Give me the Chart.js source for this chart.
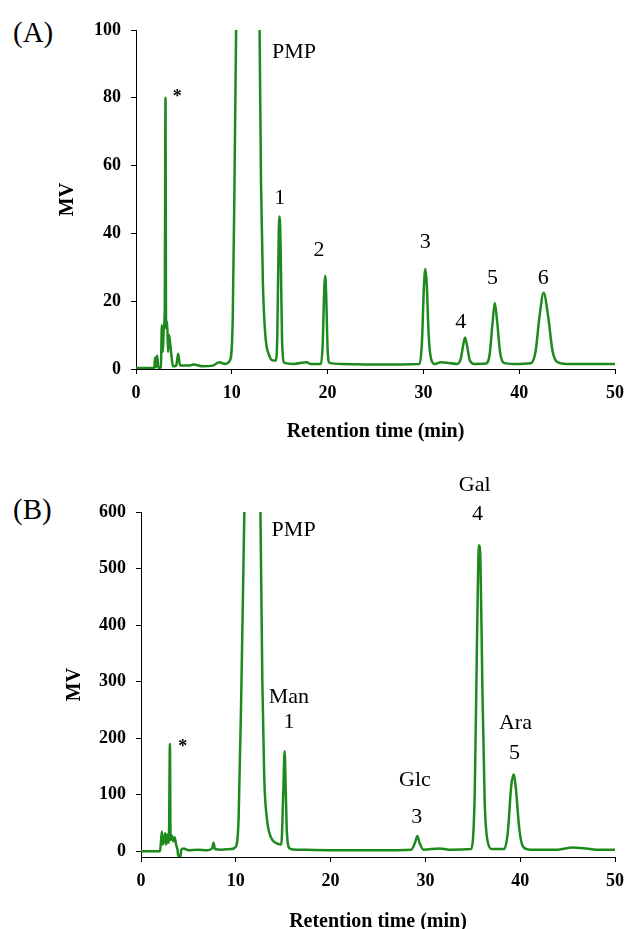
<!DOCTYPE html>
<html>
<head>
<meta charset="utf-8">
<script src="https://cdn.jsdelivr.net/npm/chart.js@4/dist/chart.umd.min.js"></script>
<style>
  body { margin: 0; background: #fff; width: 633px; height: 929px; position: relative; overflow: hidden; }
  canvas { position: absolute; left: 0; }
  #chartA { top: 0; }
  #chartB { top: 450px; }
  .panel { position: absolute; left: 13px; font: 29px "Liberation Serif", serif; color: #000; line-height: 1; }
</style>
</head>
<body>
<div class="panel" style="top:18px">(A)</div>
<div class="panel" style="top:495px">(B)</div>
<canvas id="chartA" width="633" height="450"></canvas>
<canvas id="chartB" width="633" height="479"></canvas>
<script>
const timeA = [0, 1.9, 2.0, 2.1, 2.2, 2.35, 2.6, 2.7, 2.8, 2.9, 3.0, 3.08, 3.14, 3.25, 3.35, 3.45, 3.55, 3.7, 3.85, 4.2, 4.4, 4.6,
  5.5, 6.0, 7.0, 8.0, 8.7, 9.3, 9.8, 10.1, 10.3, 10.45, 10.7, 12.7, 12.9, 13.05, 13.25, 13.5, 13.9, 14.3, 14.6, 14.75, 14.9, 15.0,
  15.1, 15.25, 15.5, 16.5, 17.8, 18.2, 19.3, 19.5, 19.65, 19.75, 19.85, 20.0, 20.2, 21.5, 25, 29.6, 29.85, 30.05, 30.2, 30.35,
  30.55, 30.8, 31.2, 31.8, 33.5, 33.9, 34.15, 34.35, 34.55, 34.85, 35.3, 36.5, 36.9, 37.2, 37.45, 37.7, 38.0, 38.4, 39.5, 41.2,
  41.7, 42.1, 42.55, 43.0, 43.5, 44.0, 45.0, 50];
const signalA = [0.3, 0.3, 3.5, 0.5, 4, 0.3, 0.5, 13, 5, 12, 17, 80, 12, 14, 5, 10, 8, 4, 0.8, 1, 4.5, 1,
  1, 1.3, 0.8, 1, 2, 1.5, 2.5, 15, 60, 100, 140, 140, 100, 55, 25, 10, 4, 2.5, 2.5, 10, 40, 45,
  35, 8, 1.8, 1.5, 2, 1.5, 1.5, 8, 24, 27.5, 22, 6, 1.8, 1.5, 1.3, 1.5, 8, 24, 29.5, 25,
  10, 3, 1.5, 2, 1.5, 3, 7, 9.3, 7, 2.5, 1.5, 1.6, 4, 13, 19.5, 14, 5, 1.8, 1.5, 1.7,
  5, 15, 22.5, 16, 5, 2, 1.5, 1.5];

const timeB = [0, 2.0, 2.1, 2.2, 2.3, 2.45, 2.55, 2.65, 2.75, 2.85, 2.95, 3.05, 3.12, 3.25, 3.4, 3.55, 3.7, 3.85, 3.95, 4.15, 4.25,
  4.5, 5, 6, 7.0, 7.5, 7.65, 7.8, 8.5, 9.5, 10.0, 10.3, 10.6, 10.9, 11.1, 12.4, 12.6, 12.8, 13.0, 13.3, 13.7, 14.2, 14.8,
  15.0, 15.15, 15.25, 15.4, 15.7, 16.5, 20, 25, 28.5, 28.9, 29.15, 29.4, 29.8, 31.5, 32.5, 34.8, 35.2, 35.45, 35.65, 35.8,
  36.0, 36.25, 36.6, 37.0, 38.3, 38.7, 39.05, 39.3, 39.55, 39.9, 40.3, 41.0, 44.0, 45.5, 47.0, 48, 50];
const signalB = [0, 0, 15, 35, 12, 20, 32, 12, 30, 15, 28, 190, 20, 28, 18, 25, 12, 3, -10, -10, 3,
  5, 2, 3, 2, 5, 15, 4, 3, 4, 8, 60, 300, 600, 800, 800, 600, 300, 130, 55, 25, 15, 12,
  100, 177, 120, 30, 5, 3, 2, 2, 3, 15, 27, 14, 3, 5, 3, 4, 100, 380, 541, 520,
  300, 90, 15, 4, 4, 35, 115, 136, 110, 40, 8, 3, 3, 7, 5, 3, 3];

const xTicks = [0, 10, 20, 30, 40, 50];
const yTicksA = [0, 20, 40, 60, 80, 100];
const yTicksB = [0, 100, 200, 300, 400, 500, 600];

// peak labels: [text, time, MV, bold]
const labelsA = [
  ['*', 4.3, 80, true], ['PMP', 16.5, 93.5], ['1', 15.0, 50.4], ['2', 19.1, 35.1],
  ['3', 30.2, 37.5], ['4', 33.9, 13.9], ['5', 37.2, 26.8], ['6', 42.5, 26.8]
];
const labelsB = [
  ['*', 4.4, 184, true], ['PMP', 16.1, 568], ['Man', 15.6, 272], ['1', 15.6, 228],
  ['Glc', 28.9, 126], ['3', 29.1, 60], ['Gal', 35.2, 648], ['4', 35.5, 596],
  ['Ara', 39.5, 227], ['5', 39.4, 173]
];

const green = '#1e8a1e';
const serif = '"Liberation Serif", "Times New Roman", serif';

const peakLabels = {
  id: 'peakLabels',
  afterDatasetsDraw(chart, args, opts) {
    const { ctx, scales } = chart;
    ctx.save();
    ctx.fillStyle = '#000';
    ctx.textAlign = 'center';
    ctx.textBaseline = 'middle';
    opts.items.forEach(([text, t, v, bold]) => {
      ctx.font = bold ? 'bold 18px ' + serif : '22px ' + serif;
      ctx.fillText(text, scales.x.getPixelForValue(t), scales.y.getPixelForValue(v));
    });
    ctx.restore();
  }
};

function makeChart(id, times, values, yMin, yMax, yTicks, labels, box) {
  const points = times.map((t, i) => ({ x: t, y: values[i] }));
  return new Chart(document.getElementById(id), {
    type: 'line',
    data: {
      datasets: [{
        data: points,
        borderColor: green,
        borderWidth: 2.5,
        pointRadius: 0,
        cubicInterpolationMode: 'monotone',
        fill: false
      }]
    },
    options: {
      responsive: false,
      animation: false,
      devicePixelRatio: 1,
      layout: { padding: { top: box.top, right: box.right, left: 0, bottom: 0 } },
      plugins: {
        legend: { display: false },
        tooltip: { enabled: false },
        peakLabels: { items: labels }
      },
      scales: {
        x: {
          type: 'linear',
          min: 0,
          max: 50,
          afterBuildTicks: axis => { axis.ticks = xTicks.map(v => ({ value: v })); },
          afterFit: scale => { scale.height = box.xHeight; },
          grid: { drawOnChartArea: false, color: '#000', tickLength: 5 },
          border: { color: '#000', width: 1 },
          ticks: { color: '#000', padding: 9, maxRotation: 0, font: { family: serif, size: 18, weight: 'bold' } },
          title: {
            display: true,
            text: 'Retention time (min)',
            color: '#000',
            font: { family: serif, size: 20, weight: 'bold', lineHeight: 0.7 },
            padding: { top: 0, bottom: box.titlePad }
          }
        },
        y: {
          min: yMin,
          max: yMax,
          afterBuildTicks: axis => { axis.ticks = yTicks.map(v => ({ value: v })); },
          afterFit: scale => { scale.width = box.yWidth; },
          grid: { drawOnChartArea: false, color: '#000', tickLength: 5 },
          border: { color: '#000', width: 1 },
          ticks: { color: '#000', padding: 10, font: { family: serif, size: 18, weight: 'bold' } },
          title: {
            display: true,
            text: 'MV',
            color: '#000',
            font: { family: serif, size: 20, weight: 'bold', lineHeight: 0.7 },
            padding: { top: box.yTitlePad, bottom: 0 }
          }
        }
      }
    },
    plugins: [peakLabels]
  });
}

makeChart('chartA', timeA, signalA, 0, 100, yTicksA, labelsA,
  { top: 30, right: 13, xHeight: 81, yWidth: 136, titlePad: 11, yTitlePad: 61 });
makeChart('chartB', timeB, signalB, -10, 600, yTicksB, labelsB,
  { top: 62, right: 12, xHeight: 72, yWidth: 141, titlePad: 0, yTitlePad: 68 });
</script>
</body>
</html>
